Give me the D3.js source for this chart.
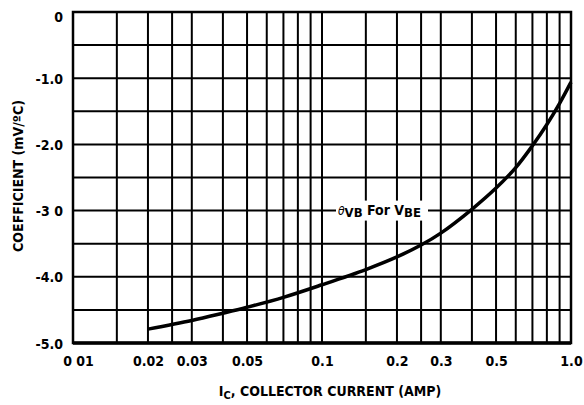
<!DOCTYPE html>
<html>
<head>
<meta charset="utf-8">
<script src="https://cdn.jsdelivr.net/npm/d3@7/dist/d3.min.js"></script>
<style>
  html, body { margin: 0; padding: 0; background: #fff; }
  svg { display: block; }
  text { font-family: "Liberation Sans Narrow", "DejaVu Sans Condensed", "Liberation Sans", sans-serif; font-weight: bold; fill: #000; }
</style>
</head>
<body>
<svg id="chart" width="584" height="405"></svg>
<script>
// ---- data ----
const current = [0.02, 0.03, 0.04, 0.05, 0.07, 0.1, 0.15, 0.2, 0.25, 0.3, 0.4, 0.5, 0.6, 0.7, 0.8, 0.9, 1.0];
const coefficient = [-4.79, -4.66, -4.55, -4.46, -4.31, -4.12, -3.89, -3.70, -3.52, -3.34, -2.98, -2.66, -2.35, -2.02, -1.70, -1.38, -1.06];

const xTickValues = [0.01, 0.02, 0.03, 0.05, 0.1, 0.2, 0.3, 0.5, 1.0];
const xTickLabels = ["0 01", "0.02", "0.03", "0.05", "0.1", "0.2", "0.3", "0.5", "1.0"];
const yTickValues = [0, -1, -2, -3, -4, -5];
const yTickLabels = ["0", "-1.0", "-2.0", "-3 0", "-4.0", "-5.0"];

const xGridValues = [0.015, 0.02, 0.025, 0.03, 0.04, 0.05, 0.06, 0.07, 0.08, 0.09, 0.1,
                     0.15, 0.2, 0.25, 0.3, 0.4, 0.5, 0.6, 0.7, 0.8, 0.9];
const yGridValues = [-0.5, -1, -1.5, -2, -2.5, -3, -3.5, -4, -4.5];

const xTitleMain = "I";
const xTitleSub = "C";
const xTitleRest = ", COLLECTOR CURRENT (AMP)";
const yTitle = "COEFFICIENT (mV/ºC)";

// ---- layout ----
const svg = d3.select("#chart");
const pLeft = 73, pRight = 571, pTop = 12, pBottom = 343;

const x = d3.scaleLog().domain([0.01, 1]).range([pLeft, pRight]);
const y = d3.scaleLinear().domain([-5, 0]).range([pBottom, pTop]);

// gridlines
const grid = svg.append("g").attr("stroke", "#000").attr("stroke-width", 2);
grid.selectAll("line.v").data(xGridValues).join("line")
  .attr("class", "v")
  .attr("x1", d => x(d)).attr("x2", d => x(d))
  .attr("y1", pTop).attr("y2", pBottom);
grid.selectAll("line.h").data(yGridValues).join("line")
  .attr("class", "h")
  .attr("x1", pLeft).attr("x2", pRight)
  .attr("y1", d => y(d)).attr("y2", d => y(d));

// frame
svg.append("rect")
  .attr("x", pLeft).attr("y", pTop)
  .attr("width", pRight - pLeft).attr("height", pBottom - pTop)
  .attr("fill", "none").attr("stroke", "#000").attr("stroke-width", 2.5);
svg.append("line")
  .attr("x1", pLeft).attr("x2", pRight)
  .attr("y1", pBottom).attr("y2", pBottom)
  .attr("stroke", "#000").attr("stroke-width", 3.5);

// axes (labels only)
const xAxis = d3.axisBottom(x)
  .tickValues(xTickValues)
  .tickSize(0)
  .tickPadding(0)
  .tickFormat((d, i) => xTickLabels[i]);
const gx = svg.append("g").attr("transform", `translate(0,${pBottom})`).call(xAxis);
gx.select(".domain").remove();
gx.selectAll("text")
  .attr("dy", null).attr("y", 23)
  .style("font-size", "14px")
  .attr("font-family", null);
gx.selectAll(".tick text").filter((d, i) => i === 0).attr("dx", 5);

const yAxis = d3.axisLeft(y)
  .tickValues(yTickValues)
  .tickSize(0)
  .tickPadding(10)
  .tickFormat((d, i) => yTickLabels[i]);
const gy = svg.append("g").attr("transform", `translate(${pLeft},0)`).call(yAxis);
gy.select(".domain").remove();
gy.selectAll("text")
  .attr("dy", "0.36em")
  .style("font-size", "14px")
  .attr("font-family", null);
gy.selectAll(".tick text").filter((d, i) => i === 0).attr("dy", "0.7em");

// curve
const line = d3.line()
  .x((d, i) => x(current[i]))
  .y(d => y(d))
  .curve(d3.curveCatmullRom.alpha(0.5));
svg.append("path")
  .datum(coefficient)
  .attr("d", line)
  .attr("fill", "none")
  .attr("stroke", "#000")
  .attr("stroke-width", 3.5)
  .attr("stroke-linecap", "butt");

// annotation on the -3.0 gridline
const annY = y(-3);
svg.append("rect")
  .attr("x", 336).attr("y", annY - 10)
  .attr("width", 92).attr("height", 20)
  .attr("fill", "#fff");
const ann = svg.append("text")
  .attr("x", 338).attr("y", annY + 5)
  .style("font-size", "14px");
ann.append("tspan").text("θ").style("font-style", "italic").style("font-weight", "normal").style("font-size", "12px").attr("dy", -1);
ann.append("tspan").text("VB").attr("dy", 2).style("font-size", "13px");
ann.append("tspan").text(" For ").attr("dy", -2);
ann.append("tspan").text("V");
ann.append("tspan").text("BE").attr("dy", 2).style("font-size", "13px");

// axis titles
const xt = svg.append("text")
  .attr("x", 330).attr("y", 396)
  .attr("text-anchor", "middle")
  .style("font-size", "14px");
xt.append("tspan").text(xTitleMain);
xt.append("tspan").text(xTitleSub).attr("dy", 3).style("font-size", "11px");
xt.append("tspan").text(xTitleRest).attr("dy", -3);

svg.append("text")
  .attr("transform", "translate(23,176) rotate(-90)")
  .attr("text-anchor", "middle")
  .style("font-size", "14px")
  .text(yTitle);
</script>
</body>
</html>
